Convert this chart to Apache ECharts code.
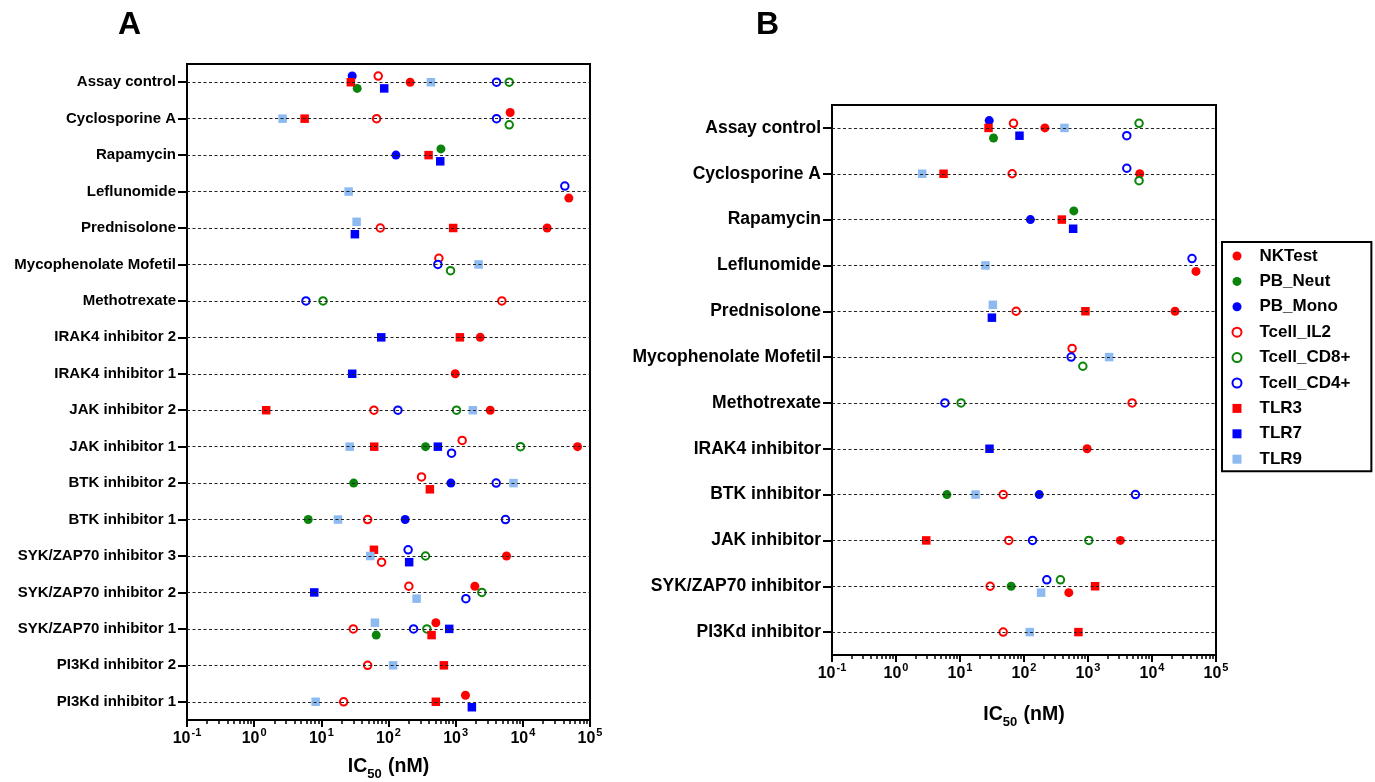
<!DOCTYPE html>
<html><head><meta charset="utf-8">
<script src="https://cdn.jsdelivr.net/npm/echarts@6/dist/echarts.min.js"></script>
<style>html,body{margin:0;padding:0;background:#fff}#c{width:1375px;height:782px}</style>
</head><body><div id="c"></div>
<script>
const FONT = '"Liberation Sans", Arial, sans-serif';
const _ = null;
const seriesNames = ['NKTest','PB_Neut','PB_Mono','Tcell_IL2','Tcell_CD8+','Tcell_CD4+','TLR3','TLR7','TLR9'];

const categoriesA = ['Assay control','Cyclosporine A','Rapamycin','Leflunomide','Prednisolone','Mycophenolate Mofetil','Methotrexate','IRAK4 inhibitor 2','IRAK4 inhibitor 1','JAK inhibitor 2','JAK inhibitor 1','BTK inhibitor 2','BTK inhibitor 1','SYK/ZAP70 inhibitor 3','SYK/ZAP70 inhibitor 2','SYK/ZAP70 inhibitor 1','PI3Kd inhibitor 2','PI3Kd inhibitor 1'];
const categoriesB = ['Assay control','Cyclosporine A','Rapamycin','Leflunomide','Prednisolone','Mycophenolate Mofetil','Methotrexate','IRAK4 inhibitor','BTK inhibitor','JAK inhibitor','SYK/ZAP70 inhibitor','PI3Kd inhibitor'];

const xTickValues = [0.1, 1, 10, 100, 1000, 10000, 100000];
const xTickExponents = ['-1','0','1','2','3','4','5'];
const xMinorValues = [0.2,0.3,0.4,0.5,0.6,0.7,0.8,0.9,2,3,4,5,6,7,8,9,20,30,40,50,60,70,80,90,200,300,400,500,600,700,800,900,2000,3000,4000,5000,6000,7000,8000,9000,20000,30000,40000,50000,60000,70000,80000,90000];

// Panel A IC50 values (nM), one entry per categoriesA row
const A_NKTest   = [210, 6480, _, 48400, 23000, _, _, 2320, 985, 3270, 65200, _, _, 5720, 1930, 507, _, 1400];
const A_PB_Neut  = [34.2, _, 603, _, _, _, _, _, _, _, 356, 30.3, 6.38, _, _, 65.6, _, _];
const A_PB_Mono  = [28.8, _, 129, _, _, _, _, _, _, _, _, 849, 177, _, _, _, _, _];
const A_Tcell_IL2 = [70.3, 66.5, _, _, 75.4, 562, 4870, _, _, 60.7, 1250, 310, 48.9, 78.9, 201, 29.9, 48.9, 21.5];
const A_Tcell_CD8 = [6270, 6270, _, _, _, 839, 10.6, _, _, 1030, 9250, _, _, 356, 2455, 373, _, _];
const A_Tcell_CD4 = [4060, 4060, _, 42170, _, 543, 5.9, _, _, 138, 869, 4010, 5520, 196, 1419, 236, _, _];
const A_TLR3 = [27.5, 5.64, 395, _, 918, _, _, 1155, _, 1.51, 61.3, 413, _, 60.7, _, 438, 667, 507];
const A_TLR7 = [86.3, _, 589, _, 31.6, _, _, 78, 28.8, _, 543, _, _, 203, 7.85, 802, _, 1742];
const A_TLR9 = [428, 2.65, _, 25.5, 33.5, 2193, _, _, _, 1803, 26.4, 7260, 17.7, 53.5, 262, 62.8, 117, 8.22];

// Panel B IC50 values (nM), one entry per categoriesB row
const B_NKTest   = [212, 6440, _, 48700, 22900, _, _, 968, _, 3206, 501, _];
const B_PB_Neut  = [33.4, _, 600, _, _, _, _, _, 6.24, _, 63.0, _];
const B_PB_Mono  = [28.6, _, 126, _, _, _, _, _, 173, _, _, _];
const B_Tcell_IL2 = [68.5, 65.3, _, _, 75.4, 565, 4890, _, 47.3, 57.8, 29.6, 47.3];
const B_Tcell_CD8 = [6280, 6280, _, _, _, 830, 10.4, _, _, 1029, 371, _];
const B_Tcell_CD4 = [4036, 4036, _, 42200, _, 545, 5.81, _, 5510, 136, 227, _];
const B_TLR3 = [27.9, 5.53, 390, _, 912, _, _, _, _, 2.97, 1291, 709];
const B_TLR7 = [85, _, 586, _, 31.5, _, _, 28.9, _, _, _, _];
const B_TLR9 = [429, 2.57, _, 25.0, 32.6, 2138, _, _, 17.5, _, 185, 123];

// vertical nudges of overlapping points (in row units, negative = up)
const nudgeA = {
  'NKTest': {1:-0.17, 3:0.18, 14:-0.17, 15:-0.17, 17:-0.18},
  'PB_Neut': {0:0.17, 2:-0.17, 15:0.17},
  'PB_Mono': {0:-0.17},
  'Tcell_IL2': {0:-0.17, 5:-0.17, 10:-0.17, 11:-0.17, 13:0.17, 14:-0.17},
  'Tcell_CD8+': {1:0.17, 5:0.17},
  'Tcell_CD4+': {3:-0.15, 10:0.18, 13:-0.17, 14:0.17},
  'TLR3': {11:0.17, 13:-0.17, 15:0.17},
  'TLR7': {0:0.17, 2:0.17, 4:0.17, 13:0.17, 17:0.15},
  'TLR9': {4:-0.17, 14:0.17, 15:-0.17}
};
const nudgeB = {
  'NKTest': {3:0.13, 10:0.14},
  'PB_Neut': {0:0.22, 2:-0.19},
  'PB_Mono': {0:-0.16},
  'Tcell_IL2': {0:-0.10, 5:-0.19},
  'Tcell_CD8+': {0:-0.10, 1:0.15, 5:0.20, 10:-0.14},
  'Tcell_CD4+': {0:0.17, 1:-0.12, 3:-0.15, 10:-0.14},
  'TLR3': {},
  'TLR7': {0:0.17, 2:0.20, 4:0.14},
  'TLR9': {4:-0.14, 10:0.14}
};

const valuesA = [A_NKTest, A_PB_Neut, A_PB_Mono, A_Tcell_IL2, A_Tcell_CD8, A_Tcell_CD4, A_TLR3, A_TLR7, A_TLR9];
const valuesB = [B_NKTest, B_PB_Neut, B_PB_Mono, B_Tcell_IL2, B_Tcell_CD8, B_Tcell_CD4, B_TLR3, B_TLR7, B_TLR9];

const RED = '#ff0000', GREEN = '#0b840b', BLUE = '#0000ff', LBLUE = '#8dbaf0';
const styles = {
  'NKTest':     {symbol:'circle', size:9, itemStyle:{color:RED, opacity:1}},
  'PB_Neut':    {symbol:'circle', size:9, itemStyle:{color:GREEN, opacity:1}},
  'PB_Mono':    {symbol:'circle', size:9, itemStyle:{color:BLUE, opacity:1}},
  'Tcell_IL2':  {symbol:'circle', size:7.5, itemStyle:{color:'#fff', borderColor:RED, borderWidth:2, opacity:1}},
  'Tcell_CD8+': {symbol:'circle', size:7.5, itemStyle:{color:'#fff', borderColor:GREEN, borderWidth:2, opacity:1}},
  'Tcell_CD4+': {symbol:'circle', size:7.5, itemStyle:{color:'#fff', borderColor:BLUE, borderWidth:2, opacity:1}},
  'TLR3':       {symbol:'rect', size:8.5, itemStyle:{color:RED, opacity:1}},
  'TLR7':       {symbol:'rect', size:8.5, itemStyle:{color:BLUE, opacity:1}},
  'TLR9':       {symbol:'rect', size:8.5, itemStyle:{color:LBLUE, opacity:1}}
};

const labelRich = {
  b: {fontFamily: FONT, fontSize: 16, fontWeight: 'bold', color: '#000', lineHeight: 20, verticalAlign: 'bottom'},
  s: {fontFamily: FONT, fontSize: 11, fontWeight: 'bold', color: '#000', lineHeight: 20, verticalAlign: 'top', padding:[0,0,0,1]}
};
function tickFormatter(v) {
  const i = xTickValues.findIndex(t => Math.abs(Math.log10(t) - Math.log10(v)) < 1e-6);
  return i < 0 ? '' : '{b|10}{s|' + xTickExponents[i] + '}';
}
const nameRich = {
  a: {fontFamily: FONT, fontSize: 19.5, fontWeight: 'bold', color: '#000', verticalAlign: 'top', lineHeight: 24},
  d: {fontFamily: FONT, fontSize: 13, fontWeight: 'bold', color: '#000', verticalAlign: 'bottom', lineHeight: 24, padding:[0,1,0,0]}
};

function xAxesFor(gi, nameGap, labelMargin) {
  return [
    {gridIndex: gi, type: 'log', logBase: 10, min: 0.1, max: 100000, position: 'bottom',
     axisLine: {onZero: false, lineStyle: {color: '#000', width: 2}},
     axisTick: {customValues: xTickValues, length: 7, lineStyle: {color: '#000', width: 2}},
     axisLabel: {customValues: xTickValues, formatter: tickFormatter, rich: labelRich, margin: labelMargin},
     splitLine: {show: false},
     name: '{a|IC}{d|50}{a| (nM)}', nameLocation: 'middle', nameGap: nameGap, nameMoveOverlap: false,
     nameTextStyle: {rich: nameRich}},
    {gridIndex: gi, type: 'log', logBase: 10, min: 0.1, max: 100000, position: 'bottom',
     axisLine: {show: false, onZero: false},
     axisTick: {customValues: xMinorValues, length: 4, lineStyle: {color: '#000', width: 1.5}},
     axisLabel: {show: false}, splitLine: {show: false}}
  ];
}
function yAxesFor(gi, cats, fontSize, tickLen, margin) {
  return [
    {gridIndex: gi, type: 'category', data: cats, inverse: true, boundaryGap: true,
     axisLine: {onZero: false, lineStyle: {color: '#000', width: 2}},
     axisTick: {show: true, alignWithLabel: true, length: tickLen, lineStyle: {color: '#000', width: 2}},
     axisLabel: {fontFamily: FONT, fontSize: fontSize, fontWeight: 'bold', color: '#000', margin: margin},
     splitLine: {show: false}},
    {gridIndex: gi, type: 'value', min: -0.5, max: cats.length - 0.5, inverse: true, show: false,
     axisLine: {onZero: false}}
  ];
}

function panelSeries(values, nudge, cats, xi, yi) {
  const out = seriesNames.map((name, k) => {
    const st = styles[name];
    const data = [];
    values[k].forEach((v, i) => { if (v != null) data.push([v, i + (nudge[name][i] || 0)]); });
    return {name, type: 'scatter', xAxisIndex: xi, yAxisIndex: yi, symbol: st.symbol, symbolSize: st.size,
            itemStyle: st.itemStyle, data, silent: true, z: 3};
  });
  out.push({name: 'rows', type: 'scatter', xAxisIndex: xi, yAxisIndex: yi, data: [], silent: true, z: 1,
    markLine: {silent: true, symbol: ['none', 'none'], label: {show: false},
      lineStyle: {color: '#222', width: 1, type: [3, 2.5]},
      data: cats.map((c, i) => ({yAxis: i}))}});
  return out;
}

const chart = echarts.init(document.getElementById('c'), null, {renderer: 'canvas'});
chart.setOption({
  animation: false,
  backgroundColor: '#fff',
  textStyle: {fontFamily: FONT},
  title: [
    {text: 'A', left: 113, top: 4, textStyle: {fontFamily: FONT, fontSize: 32, fontWeight: 'bold', color: '#000'}},
    {text: 'B', left: 751, top: 4, textStyle: {fontFamily: FONT, fontSize: 32, fontWeight: 'bold', color: '#000'}}
  ],
  grid: [
    {left: 187, top: 64, width: 403, height: 656, show: true, borderColor: '#000', borderWidth: 2,
     backgroundColor: 'transparent', containLabel: false, outerBoundsMode: 'none'},
    {left: 832, top: 105, width: 384, height: 550, show: true, borderColor: '#000', borderWidth: 2,
     backgroundColor: 'transparent', containLabel: false, outerBoundsMode: 'none'}
  ],
  xAxis: [...xAxesFor(0, 37, 7), ...xAxesFor(1, 50, 7)],
  yAxis: [...yAxesFor(0, categoriesA, 15, 9, 11), ...yAxesFor(1, categoriesB, 17.5, 9, 11)],
  legend: {
    data: seriesNames, orient: 'vertical', left: 1222, top: 242,
    padding: [5, 21, 3, 9.5], itemGap: 7.4, itemWidth: 9, itemHeight: 9,
    borderColor: '#000', borderWidth: 2, selectedMode: false,
    textStyle: {fontFamily: FONT, fontSize: 17, fontWeight: 'bold', color: '#000', lineHeight: 18, padding: [0, 0, 0, 13]}
  },
  series: [
    ...panelSeries(valuesA, nudgeA, categoriesA, 0, 1),
    ...panelSeries(valuesB, nudgeB, categoriesB, 2, 3)
  ]
});
</script>
</body></html>
